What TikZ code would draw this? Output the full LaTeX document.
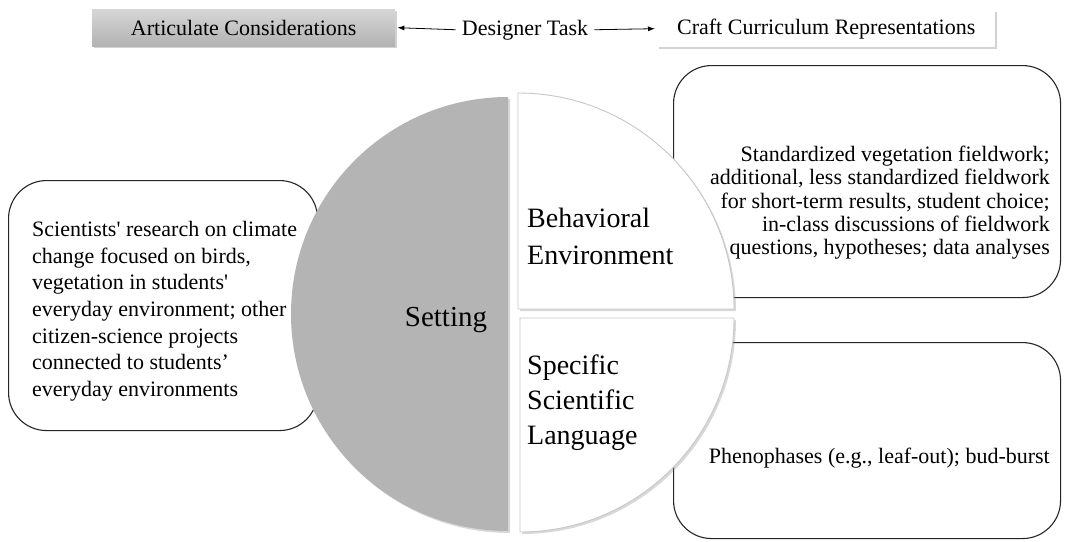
\documentclass[tikz,border=0pt]{standalone}
\usepackage{fontspec}
\setmainfont{Liberation Serif}[Ligatures=TeXOff]
\usetikzlibrary{shadows,arrows.meta}
\definecolor{diskgray}{HTML}{B4B4B4}
\definecolor{edgeblack}{HTML}{262626}
\begin{document}
\begin{tikzpicture}[x=1pt,y=-1pt,
  roundbox/.style={draw=edgeblack, line width=1.1pt, rounded corners=38pt, fill=white, inner sep=0pt},
  topbox/.style={inner sep=0pt, minimum height=37pt, font=\fontsize{22}{26}\selectfont,
     drop shadow={shadow xshift=2pt, shadow yshift=-2pt, opacity=0.35}},
  piece/.style={fill=white, draw=black!22, line width=0.9pt,
     drop shadow={shadow xshift=2pt, shadow yshift=-2pt, opacity=0.3}},
  bodytext/.style={inner sep=0pt, font=\fontsize{22}{26.7}\selectfont},
  bigtext/.style={inner sep=0pt, align=left},
  arr/.style={-{Latex[length=7pt,width=5pt]}, line width=0.8pt, black}
]
\useasboundingbox (0,0) rectangle (1065,541);
\fill[white] (0,0) rectangle (1065,541);

% top row
\node[topbox, anchor=north west, minimum width=303pt, top color=black!16, bottom color=black!30] (ac) at (92,9) {Articulate Considerations};
\node[topbox, anchor=north west, minimum width=338pt, fill=white] (cc) at (657,10) {Craft Curriculum Representations};
\node[anchor=base, inner xsep=6pt, inner ysep=0pt, font=\fontsize{22}{26}\selectfont] (dt) at (525,35) {Designer Task};
\draw[arr] (dt.west) -- ([xshift=2pt]ac.east);
\draw[arr] (dt.east) -- ([xshift=-2pt]cc.west);

% side boxes
\node[roundbox, anchor=north west, minimum width=309pt, minimum height=250pt] (lbox) at (8,180) {};
\node[roundbox, anchor=north west, minimum width=387pt, minimum height=232pt] (rtbox) at (673,65) {};
\node[roundbox, anchor=north west, minimum width=387pt, minimum height=196pt] (rbbox) at (673,342) {};

% disk pieces
\path[fill=diskgray, drop shadow={shadow xshift=2pt, shadow yshift=-2pt, opacity=0.3}]
  (508,97) arc[start angle=270, end angle=90, radius=217] -- cycle;
\path[piece] (518,93) arc[start angle=270, end angle=360, radius=216] -- (518,309) -- cycle;
\path[piece] (734,318) arc[start angle=0, end angle=90, radius=214] -- (520,318) -- cycle;

% texts
\node[bodytext, align=left, anchor=north west] (lt) at (32,221)
  {Scientists' research on climate\\change focused on birds,\\vegetation in students'\\everyday environment; other\\citizen-science projects\\connected to students’\\everyday environments};
\node[bodytext, font=\fontsize{22}{23.3}\selectfont, align=right, anchor=north east] (rtt) at (1050,146)
  {Standardized vegetation fieldwork;\\additional, less standardized fieldwork\\for short-term results, student choice;\\in-class discussions of fieldwork\\questions, hypotheses; data analyses};
\node[bodytext, anchor=base east] (rbt) at (1050,463) {Phenophases (e.g., leaf-out); bud-burst};
\node[inner sep=0pt, anchor=base, font=\fontsize{29}{32}\selectfont] (set) at (446,326) {Setting};
\node[bigtext, font=\fontsize{28}{37}\selectfont, anchor=north west] (be) at (527,208) {Behavioral\\Environment};
\node[bigtext, font=\fontsize{28}{35}\selectfont, anchor=north west] (ssl) at (527,355) {Specific\\Scientific\\Language};
\end{tikzpicture}
\end{document}
